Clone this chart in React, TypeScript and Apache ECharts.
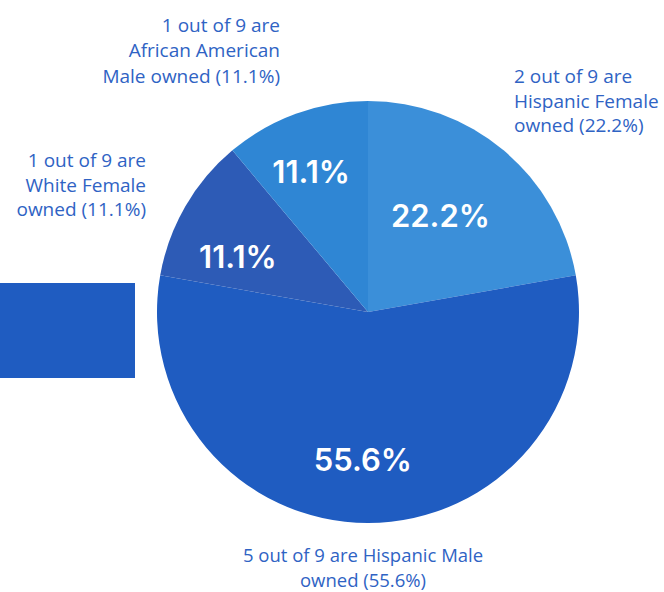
import React, { useEffect, useRef } from "react";
import * as echarts from "echarts";

// ---- data ----
const categories = [
  "Hispanic Female",
  "Hispanic Male",
  "White Female",
  "African American Male",
];
const counts = [2, 5, 1, 1];
const totalOwners = 9;

// ---- styles ----
const sliceColors = ["#3b8fd9", "#1f5cc1", "#2d5bb6", "#2f86d4"];
const labelRadius = [0.57, 0.70, 0.67, 0.72];
const labelAngleShift = [-3, 2, -7, -2];
const textColor = "#2f63c4";

const CX = 368;
const CY = 312;
const R = 211;

function pct(v: number) {
  return ((v / totalOwners) * 100).toFixed(1) + "%";
}

function outerText(i: number) {
  return `${counts[i]} out of ${totalOwners} are`;
}

export default function App() {
  const ref = useRef<HTMLDivElement>(null);
  useEffect(() => {
    document.body.style.margin = "0";
    if (!ref.current) return;
    const chart = echarts.init(ref.current, undefined, { renderer: "svg" });
    const total = counts.reduce((a, b) => a + b, 0);
    const midAngles: number[] = [];
    let acc = 0;
    counts.forEach((c) => {
      midAngles.push(((acc + c / 2) / total) * 360);
      acc += c;
    });

    const outerFont = {
      fontFamily: "Open Sans",
      fontSize: 19,
      fontWeight: 500,
      fill: textColor,
    };

    chart.setOption({
      animation: false,
      backgroundColor: "#ffffff",
      graphic: [
        {
          type: "rect",
          shape: { x: 0, y: 283, width: 135, height: 95 },
          style: { fill: "#1f5cc1" },
          silent: true,
        },
        {
          type: "text",
          x: 280,
          y: 12,
          style: {
            ...outerFont,
            text: `${outerText(3)}\nAfrican American\nMale owned (${pct(counts[3])})`,
            align: "right",
            verticalAlign: "top",
            lineHeight: 25.5,
          },
        },
        {
          type: "text",
          x: 514,
          y: 64,
          style: {
            ...outerFont,
            text: `${outerText(0)}\nHispanic Female\nowned (${pct(counts[0])})`,
            align: "left",
            verticalAlign: "top",
            lineHeight: 24.5,
          },
        },
        {
          type: "text",
          x: 146,
          y: 148,
          style: {
            ...outerFont,
            text: `${outerText(2)}\nWhite Female\nowned (${pct(counts[2])})`,
            align: "right",
            verticalAlign: "top",
            lineHeight: 24.5,
          },
        },
        {
          type: "text",
          x: 363,
          y: 554.5,
          style: {
            ...outerFont,
            fontSize: 18.5,
            text: `${outerText(1)} Hispanic Male`,
            align: "center",
            verticalAlign: "middle",
          },
        },
        {
          type: "text",
          x: 363,
          y: 579.5,
          style: {
            ...outerFont,
            fontSize: 18.5,
            text: `owned (${pct(counts[1])})`,
            align: "center",
            verticalAlign: "middle",
          },
        },
      ],
      series: [
        {
          type: "pie",
          center: [CX, CY],
          radius: R,
          startAngle: 90,
          clockwise: true,
          silent: true,
          data: categories.map((name, i) => ({
            name,
            value: counts[i],
            itemStyle: { color: sliceColors[i] },
          })),
          itemStyle: { borderWidth: 0 },
          label: {
            show: true,
            position: "inside",
            formatter: (p: any) => pct(p.value),
            color: "#ffffff",
            fontFamily: "Inter",
            fontWeight: 600,
            fontSize: 31,
          },
          labelLine: { show: false },
          labelLayout: (p: any) => {
            const i = p.dataIndex;
            const a = ((midAngles[i] + labelAngleShift[i]) * Math.PI) / 180;
            const r = R * labelRadius[i];
            return {
              x: CX + r * Math.sin(a),
              y: CY - r * Math.cos(a),
              align: "center",
              verticalAlign: "middle",
            };
          },
        },
      ],
    });
    return () => chart.dispose();
  }, []);
  return <div ref={ref} style={{ width: 664, height: 592 }} />;
}
